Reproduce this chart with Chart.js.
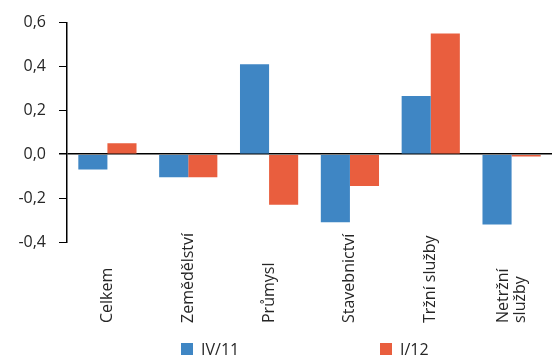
<!DOCTYPE html>
<html lang="cs">
<head>
<meta charset="utf-8">
<title>Příspěvky odvětví</title>
<style>
  body { margin: 0; background: #fff; }
  #wrap { width: 552px; height: 358px; position: relative; }
</style>
</head>
<body>
<div id="wrap"><canvas id="myChart"></canvas></div>

<script src="https://cdn.jsdelivr.net/npm/chart.js"></script>
<script>
// data
const categories = ['Celkem', 'Zemědělství', 'Průmysl', 'Stavebnictví', 'Tržní služby', ['Netržní', 'služby']];
const seriesNames = ['IV/11', 'I/12'];
const valuesIV11 = [-0.07, -0.105, 0.41, -0.31, 0.265, -0.32];
const valuesI12 = [0.05, -0.105, -0.23, -0.145, 0.55, -0.01];
const yTicks = [-0.4, -0.2, 0, 0.2, 0.4, 0.6];

const colors = ['#3f86c4', '#e95e3e'];
const font = '"Open Sans", "DejaVu Sans", sans-serif';
const textColor = '#262626';

// category labels (bottom aligned, rotated) + legend
const labelsPlugin = {
  id: 'labelsPlugin',
  afterDraw(chart) {
    const ctx = chart.ctx;
    const xs = chart.scales.x;
    ctx.save();
    ctx.font = '16px ' + font;
    ctx.fillStyle = textColor;
    categories.forEach((lab, i) => {
      const lines = Array.isArray(lab) ? lab : [lab];
      const x = xs.getPixelForValue(i);
      ctx.save();
      ctx.translate(x, 323);
      ctx.rotate(-Math.PI / 2);
      ctx.textAlign = 'left';
      ctx.textBaseline = 'middle';
      lines.forEach((t, j) => ctx.fillText(t, 0, (j - (lines.length - 1) / 2) * 17));
      ctx.restore();
    });

    // legend
    const legendX = [114, 313];
    const ly = 349;
    ctx.textAlign = 'left';
    ctx.textBaseline = 'middle';
    seriesNames.forEach((name, i) => {
      const lx = chart.chartArea.left + legendX[i];
      ctx.fillStyle = colors[i];
      ctx.fillRect(lx, ly - 6, 12, 12);
      ctx.fillStyle = textColor;
      ctx.fillText(name, lx + 20, ly + 1);
    });
    ctx.restore();
  }
};

new Chart(document.getElementById('myChart'), {
  type: 'bar',
  data: {
    labels: categories,
    datasets: [
      { label: seriesNames[0], data: valuesIV11, backgroundColor: colors[0] },
      { label: seriesNames[1], data: valuesI12, backgroundColor: colors[1] }
    ]
  },
  options: {
    responsive: true,
    maintainAspectRatio: false,
    animation: false,
    categoryPercentage: 0.72,
    barPercentage: 1,
    layout: { padding: { top: 20, bottom: 116, right: 0, left: 0 } },
    plugins: {
      legend: { display: false },
      tooltip: { enabled: false }
    },
    scales: {
      x: { display: false },
      y: {
        min: -0.4,
        max: 0.6,
        afterFit(scale) { scale.width = 67; },
        afterBuildTicks(scale) { scale.ticks = yTicks.map(v => ({ value: v })); },
        border: { color: '#000', width: 1.5 },
        grid: {
          color: c => (c.tick && c.tick.value === 0) ? '#000' : 'rgba(0,0,0,0)',
          lineWidth: c => (c.tick && c.tick.value === 0) ? 1.5 : 1,
          tickColor: '#000',
          tickLength: 8
        },
        ticks: {
          padding: 13,
          color: textColor,
          font: { family: font, size: 16 },
          callback: v => v.toFixed(1).replace('.', ',')
        }
      }
    }
  },
  plugins: [labelsPlugin]
});
</script>
</body>
</html>
